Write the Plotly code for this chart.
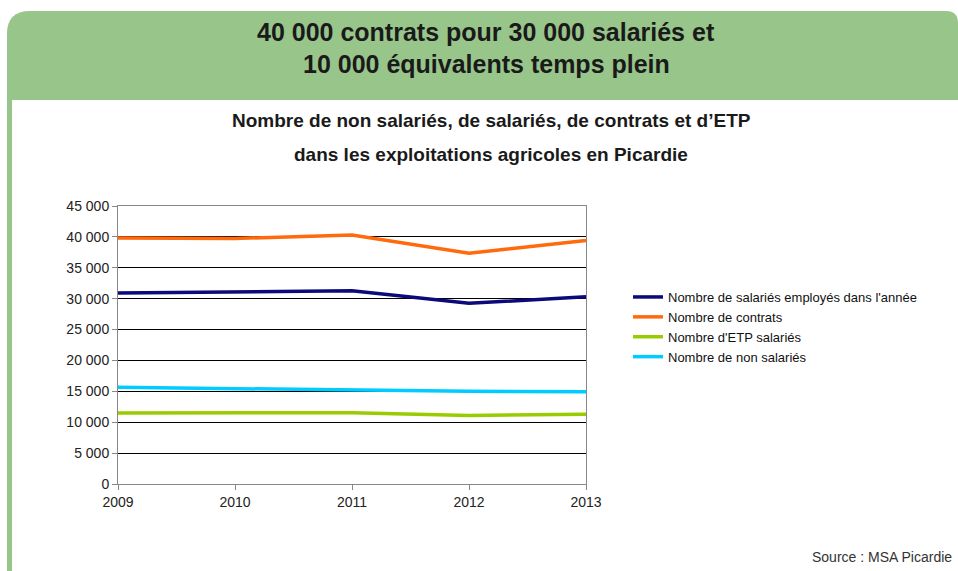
import plotly.graph_objects as go

years = [2009, 2010, 2011, 2012, 2013]
salaries = [30900, 31100, 31300, 29250, 30300]
contrats = [39800, 39750, 40300, 37350, 39400]
etp = [11500, 11500, 11550, 11100, 11300]
non_salaries = [15650, 15400, 15200, 15000, 14950]

series_names = ["Nombre de salariés employés dans l'année", "Nombre de contrats",
                "Nombre d'ETP salariés", "Nombre de non salariés"]
series_values = [salaries, contrats, etp, non_salaries]
series_colors = ["#0a0a7a", "#ff6a0d", "#99cc00", "#00ccff"]

W, H = 958, 571
L, R, T, B = 118, 586, 206, 484
FONT = "Liberation Sans, Arial, sans-serif"
GREEN = "#98c58a"

def px(x):
    return (x - L) / (R - L)

def py(y):
    return (B - y) / (B - T)

fig = go.Figure()
for name, vals, col in zip(series_names, series_values, series_colors):
    fig.add_trace(go.Scatter(x=years, y=vals, mode="lines", name=name,
                             line=dict(color=col, width=3.5)))

# header shape with rounded top corners
x0, x1, y0, y1 = 7, 958, 11, 100
r1, r2 = 23, 12
path = (f"M {px(x0)} {py(y1)} L {px(x0)} {py(y0 + r1)} "
        f"Q {px(x0)} {py(y0)} {px(x0 + r1)} {py(y0)} "
        f"L {px(x1 - r2)} {py(y0)} Q {px(x1)} {py(y0)} {px(x1)} {py(y0 + r2)} "
        f"L {px(x1)} {py(y1)} Z")
shapes = [
    dict(type="path", xref="paper", yref="paper", path=path,
         fillcolor=GREEN, line=dict(width=0), layer="below"),
    dict(type="rect", xref="paper", yref="paper", x0=px(7), x1=px(12), y0=py(100), y1=py(571),
         fillcolor=GREEN, line=dict(width=0), layer="below"),
]

def ann(text, x, y, size, color="#1a1a1a", xanchor="center"):
    return dict(text=text, x=px(x), y=py(y), xref="paper", yref="paper",
                xanchor=xanchor, yanchor="middle", showarrow=False,
                font=dict(size=size, color=color, family=FONT))

annotations = [
    ann("<b>40 000 contrats pour 30 000 salariés et</b>", 486, 32, 25),
    ann("<b>10 000 équivalents temps plein</b>", 486, 64, 25),
    ann("<b>Nombre de non salariés, de salariés, de contrats et d’ETP</b>", 491, 121, 19),
    ann("<b>dans les exploitations agricoles en Picardie</b>", 491, 154, 19),
    ann("Source : MSA Picardie", 954, 557, 14, color="#333333", xanchor="right"),
]

fig.update_layout(
    width=W, height=H,
    margin=dict(l=L, r=W - R, t=T, b=H - B, pad=0),
    paper_bgcolor="white", plot_bgcolor="white",
    separators=", ",
    font=dict(family=FONT, size=14, color="#222222"),
    shapes=shapes, annotations=annotations,
    showlegend=True,
    legend=dict(x=px(628), y=py(282), xanchor="left", yanchor="top",
                font=dict(size=13, color="#111111", family=FONT),
                bgcolor="rgba(0,0,0,0)", tracegroupgap=0),
    xaxis=dict(range=[2009, 2013], tickvals=years, ticktext=[str(y) for y in years],
               showgrid=False, zeroline=False, showline=True, linecolor="#888888", linewidth=1,
               mirror=True, ticks="outside", ticklen=5, tickcolor="#888888",
               tickfont=dict(size=14, color="#222222")),
    yaxis=dict(range=[0, 45000], dtick=5000, tickformat=",d",
               showgrid=True, gridcolor="#000000", gridwidth=1, zeroline=False,
               showline=True, linecolor="#888888", linewidth=1, mirror=True,
               ticks="outside", ticklen=5, tickcolor="#888888",
               tickfont=dict(size=14, color="#222222")),
)

fig.write_html("out.html", config={"displayModeBar": False},
               post_script="document.body.style.margin='0px';")
